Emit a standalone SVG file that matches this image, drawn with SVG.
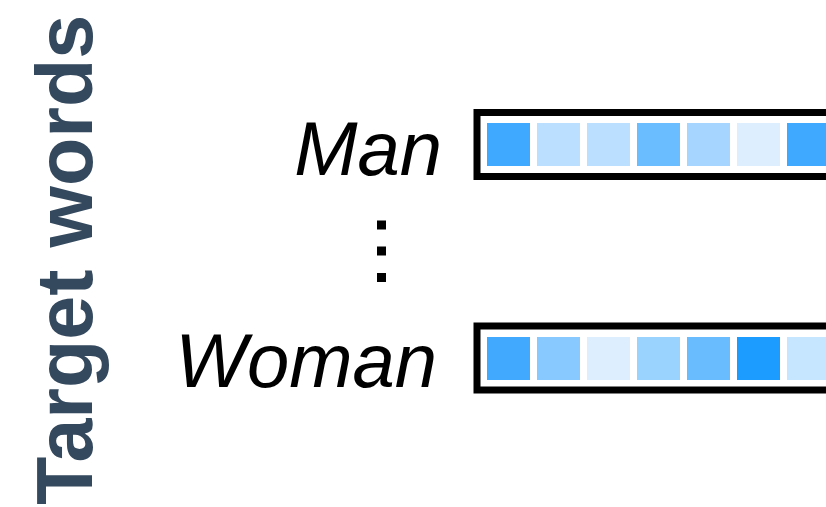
<svg xmlns="http://www.w3.org/2000/svg" width="826" height="507" viewBox="0 0 826 507">
<style>
.word{font-family:"Liberation Sans",Arial,sans-serif;font-style:italic;font-size:76px;fill:#000;text-anchor:end}
.title{font-family:"Liberation Sans",Arial,sans-serif;font-weight:bold;font-size:79px;fill:#34495e}
.box{fill:#fff;stroke:#000;stroke-width:7}
.dot{fill:#000}
</style>
<rect width="826" height="507" fill="#fff"/>
<g id="axis-title">
<text class="title" transform="translate(92,505) rotate(-90)">Target words</text>
</g>
<g id="label-man">
<text class="word" x="442" y="175">Man</text>
</g>
<g id="vector-man">
<rect class="box" x="477" y="112.5" width="400" height="64"/>
<rect x="487" y="123" width="43" height="43" fill="#3fa9ff"/>
<rect x="537" y="123" width="43" height="43" fill="#bbe0ff"/>
<rect x="587" y="123" width="43" height="43" fill="#bbe0ff"/>
<rect x="637" y="123" width="43" height="43" fill="#6abeff"/>
<rect x="687" y="123" width="43" height="43" fill="#a6d6ff"/>
<rect x="737" y="123" width="43" height="43" fill="#ddeeff"/>
<rect x="787" y="123" width="43" height="43" fill="#3fa9ff"/>
</g>
<g id="ellipsis">
<rect class="dot" x="377" y="220.5" width="9" height="9"/>
<rect class="dot" x="377" y="246.5" width="9" height="9"/>
<rect class="dot" x="377" y="273" width="9" height="9"/>
</g>
<g id="label-woman">
<text class="word" x="437" y="387">Woman</text>
</g>
<g id="vector-woman">
<rect class="box" x="477" y="326" width="400" height="64"/>
<rect x="487" y="337" width="43" height="43" fill="#41aaff"/>
<rect x="537" y="337" width="43" height="43" fill="#88caff"/>
<rect x="587" y="337" width="43" height="43" fill="#ddeeff"/>
<rect x="637" y="337" width="43" height="43" fill="#9bd3ff"/>
<rect x="687" y="337" width="43" height="43" fill="#69bdff"/>
<rect x="737" y="337" width="43" height="43" fill="#1c9cff"/>
<rect x="787" y="337" width="43" height="43" fill="#c6e5ff"/>
</g>
</svg>
